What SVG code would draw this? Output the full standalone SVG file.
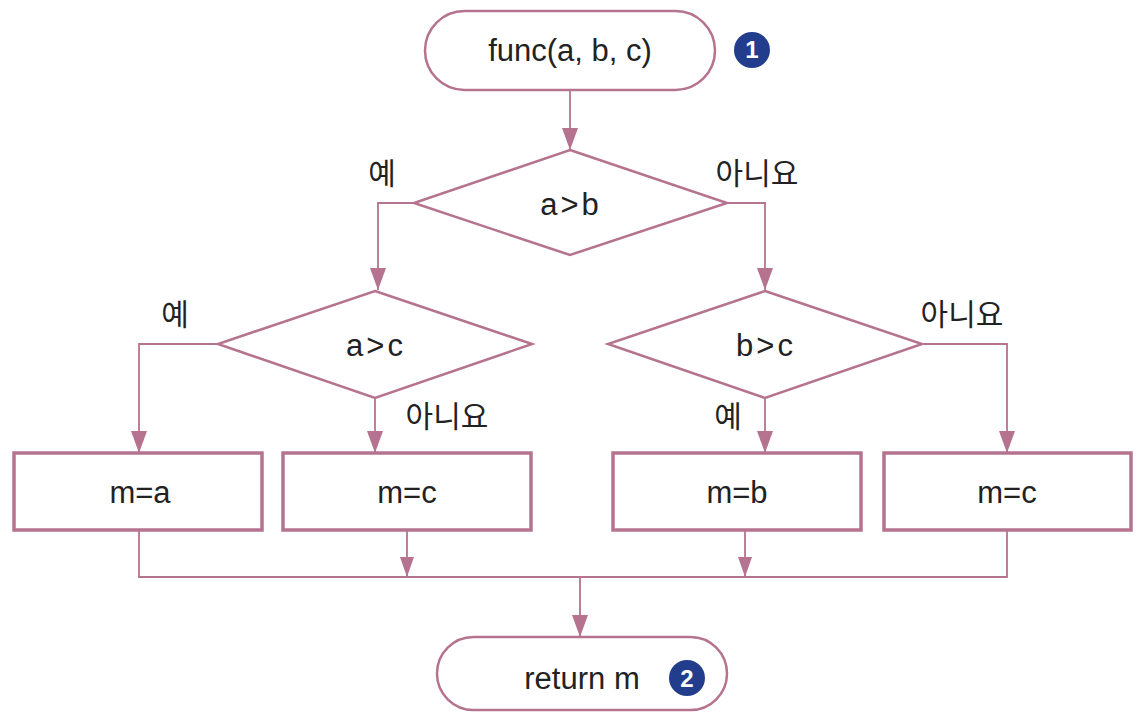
<svg xmlns="http://www.w3.org/2000/svg" width="1136" height="716" viewBox="0 0 1136 716">
<defs>
<style>
.sh{fill:#fff;stroke:#b5738f;stroke-width:2.5}
.bx{fill:#fff;stroke:#b5738f;stroke-width:3.5}
.ln{fill:none;stroke:#b5738f;stroke-width:1.8}
.ah{fill:#b5738f}
.t{font-family:"Liberation Sans",Arial,sans-serif;font-size:31px;fill:#222;text-anchor:middle}
.cmp{letter-spacing:3px}
.k{font-family:"Noto Sans CJK KR","Noto Sans",sans-serif;font-size:30px;fill:#222;text-anchor:middle}
.nc{fill:#213d8c}
.nt{font-family:"Liberation Sans",Arial,sans-serif;font-size:24px;font-weight:bold;fill:#fff;text-anchor:middle}
</style>
</defs>
<g id="connectors">
<path class="ln" d="M570,90 V150"/>
<polygon class="ah" points="562,128 578,128 570,150"/>
<path class="ln" d="M414,203 H378 V290"/>
<polygon class="ah" points="370,268 386,268 378,290"/>
<path class="ln" d="M727,203 H765 V290"/>
<polygon class="ah" points="757,268 773,268 765,290"/>
<path class="ln" d="M218,344 H139 V453"/>
<polygon class="ah" points="131,431 147,431 139,453"/>
<path class="ln" d="M375,398 V453"/>
<polygon class="ah" points="367,431 383,431 375,453"/>
<path class="ln" d="M765,398 V453"/>
<polygon class="ah" points="757,431 773,431 765,453"/>
<path class="ln" d="M922,344 H1007 V453"/>
<polygon class="ah" points="999,431 1015,431 1007,453"/>
<path class="ln" d="M139,530 V577 H1007 V530"/>
<path class="ln" d="M407,530 V577"/>
<polygon class="ah" points="400,557 414,557 407,577"/>
<path class="ln" d="M745,530 V577"/>
<polygon class="ah" points="738,557 752,557 745,577"/>
<path class="ln" d="M580,577 V637"/>
<polygon class="ah" points="572,615 588,615 580,637"/>
</g>
<g id="start">
<rect class="sh" x="425" y="11" width="290" height="79" rx="39.5"/>
<text class="t" x="570" y="61">func(a, b, c)</text>
<circle class="nc" cx="752" cy="50" r="18"/>
<text class="nt" x="752" y="58">1</text>
</g>
<g id="d1">
<polygon class="sh" points="570,150 727,203 570,255 414,203"/>
<text class="t cmp" x="571" y="215">a&gt;b</text>
<text class="k" x="382" y="184">예</text>
<text class="k" x="757" y="184">아니요</text>
</g>
<g id="d2">
<polygon class="sh" points="375,291 532,344 375,398 218,344"/>
<text class="t cmp" x="376" y="356">a&gt;c</text>
<text class="k" x="175" y="325">예</text>
<text class="k" x="447" y="427">아니요</text>
</g>
<g id="d3">
<polygon class="sh" points="765,291 922,344 765,398 608,344"/>
<text class="t cmp" x="766" y="356">b&gt;c</text>
<text class="k" x="728" y="427">예</text>
<text class="k" x="962" y="325">아니요</text>
</g>
<g id="b1"><rect class="bx" x="14" y="453" width="248" height="77"/><text class="t" x="140" y="503">m=a</text></g>
<g id="b2"><rect class="bx" x="283" y="453" width="248" height="77"/><text class="t" x="407" y="503">m=c</text></g>
<g id="b3"><rect class="bx" x="613" y="453" width="248" height="77"/><text class="t" x="737" y="503">m=b</text></g>
<g id="b4"><rect class="bx" x="884" y="453" width="247" height="77"/><text class="t" x="1007" y="503">m=c</text></g>
<g id="end">
<rect class="sh" x="437" y="637" width="290" height="73" rx="36.5"/>
<text class="t" x="582" y="689">return m</text>
<circle class="nc" cx="687" cy="678" r="18"/>
<text class="nt" x="687" y="687">2</text>
</g>
</svg>
